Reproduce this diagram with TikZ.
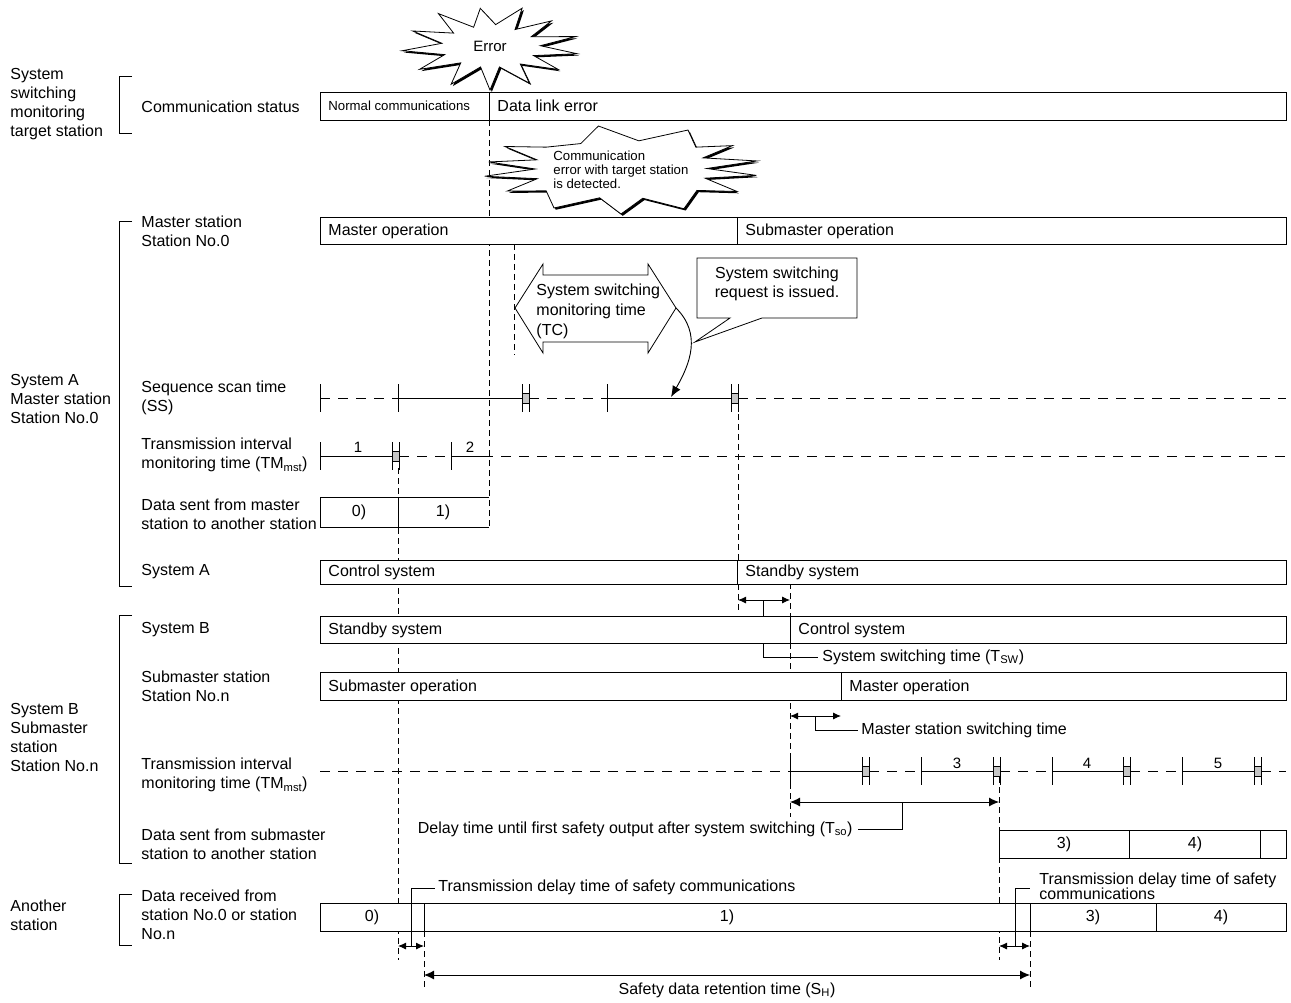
\documentclass[tikz,border=0pt]{standalone}
\usepackage{fontspec}
\setmainfont{Liberation Sans}
\usetikzlibrary{arrows.meta}
\newcommand\tk[2]{\draw (#1,#2-14) -- (#1,#2+14);}
\newcommand\mkr[2]{\filldraw[fill=gray!45,line width=0.7pt] (#1,#2-5) rectangle ({#1+7},#2+5);
  \draw (#1,#2-14) -- (#1,#2+14) ({#1+7},#2-14) -- ({#1+7},#2+14);}
\begin{document}
\begin{tikzpicture}[x=1pt,y=-1pt,line width=0.9pt,
  lbl/.style={font=\fontsize{16}{19}\selectfont,inner sep=0pt,anchor=west,align=left},
  lblc/.style={font=\fontsize{16}{19}\selectfont,inner sep=0pt,anchor=center,align=center},
  sml/.style={font=\fontsize{13.2}{14}\selectfont,inner sep=0pt,anchor=west,align=left},
  num/.style={font=\fontsize{15}{16}\selectfont,inner sep=0pt,anchor=center},
  hd/.style={dash pattern=on 10pt off 8pt},
  vd/.style={dash pattern=on 6pt off 4pt,line width=0.8pt},
  bx/.style={draw,fill=white},
  dbl/.style={{Latex[length=8pt,width=7pt]}-{Latex[length=8pt,width=7pt]}},
  dblbig/.style={{Latex[length=10pt,width=9pt]}-{Latex[length=10pt,width=9pt]}}]
\useasboundingbox[fill=white] (0,0) rectangle (1291,1003);

% ---------- left group labels and brackets ----------
\node[lbl] (g1) at (10,104) {System\\switching\\monitoring\\target station};
\node[lbl] (g2) at (10,399) {System A\\Master station\\Station No.0};
\node[lbl] (g3) at (10,737) {System B\\Submaster\\station\\Station No.n};
\node[lbl] (g4) at (10,915) {Another\\station};
\draw (132,76) -- (119,76) -- (119,133) -- (132,133);
\draw (132,221) -- (119,221) -- (119,586) -- (132,586);
\draw (132,615) -- (119,615) -- (119,863) -- (132,863);
\draw (132,894) -- (119,894) -- (119,945) -- (132,945);

% ---------- row labels ----------
\node[lbl] (r1) at (141,107) {Communication status};
\node[lbl] (r2) at (141,231) {Master station\\Station No.0};
\node[lbl] (r3) at (141,398) {Sequence scan time\\(SS)};
\node[lbl] (r4) at (141,455) {Transmission interval\\monitoring time (TM\textsubscript{mst})};
\node[lbl] (r5) at (141,514) {Data sent from master\\station to another station};
\node[lbl] (r6) at (141,572) {System A};
\node[lbl] (r7) at (141,630) {System B};
\node[lbl] (r8) at (141,686) {Submaster station\\Station No.n};
\node[lbl] (r9) at (141,775) {Transmission interval\\monitoring time (TM\textsubscript{mst})};
\node[lbl] (r10) at (141,844) {Data sent from submaster\\station to another station};
\node[lbl] (r11) at (141,915) {Data received from\\station No.0 or station\\No.n};

% ---------- dashed vertical guides (drawn under boxes) ----------
\draw[vd] (489,120) -- (489,527);
\draw[vd] (514,244) -- (514,355);
\draw[vd] (398,468) -- (398,960);
\draw[vd] (738,404) -- (738,612);
\draw[vd] (790,583) -- (790,817);
\draw[vd] (999,777) -- (999,960);
\draw[vd] (1030,931) -- (1030,990);
\draw[vd] (424,931) -- (424,990);

% ---------- error burst ----------
\begin{scope}[shift={(490,47)},x=84pt,y=41pt]
\def\burstA{(270:1.05) -- (283:0.5) -- (298:1.0) -- (311:0.55) -- (326:0.98) -- (338:0.56) -- (351:1.05) -- (3:0.6) -- (14:1.05) -- (27:0.55) -- (41:0.97) -- (55:0.52) -- (68:1.02) -- (83:0.55) -- (97:0.95) -- (112:0.52) -- (127:1.02) -- (142:0.55) -- (157:1.0) -- (171:0.58) -- (185:1.05) -- (199:0.57) -- (213:1.0) -- (228:0.52) -- (243:1.02) -- (257:0.5) -- cycle}
\fill[black,shift={(1.8pt,-1.8pt)}] \burstA;
\filldraw[fill=white,line width=0.8pt] \burstA;
\end{scope}
\node[lblc,font=\fontsize{15}{17}\selectfont] (err) at (490,46) {Error};

% ---------- communication status ----------
\draw[bx] (320,92) rectangle (1286,120);
\draw (489,92) -- (489,120);
\node[sml] (nc) at (328,106) {Normal communications};
\node[lbl] (dle) at (497,106) {Data link error};

% ---------- detection burst ----------
\begin{scope}[shift={(621,169)},x=134pt,y=45pt]
\def\burstB{(270:1.0) -- (284:0.67) -- (298:1.0) -- (320:0.74) -- (330:1.0) -- (342:0.66) -- (352:1.02) -- (1:0.64) -- (10:1.03) -- (22:0.66) -- (32:0.98) -- (41:0.74) -- (60:1.0) -- (78:0.64) -- (100:0.97) -- (118:0.64) -- (139:0.74) -- (150:1.0) -- (162:0.66) -- (171:1.0) -- (180:0.64) -- (189:1.03) -- (199:0.66) -- (210:0.98) -- (221:0.74) -- (240:1.0) -- (256:0.66) -- cycle}
\fill[black,shift={(1.8pt,-1.8pt)}] \burstB;
\filldraw[fill=white,line width=0.8pt] \burstB;
\end{scope}
\node[sml] (det) at (553,170) {Communication\\error with target station\\is detected.};

% ---------- master station row ----------
\draw[bx] (320,217) rectangle (1286,244);
\draw (737,217) -- (737,244);
\node[lbl] (mo) at (328,231) {Master operation};
\node[lbl] (so) at (745,231) {Submaster operation};

% ---------- TC block arrow ----------
\filldraw[fill=white,line width=0.8pt] (515,308) -- (543,264) -- (543,275) -- (648,275) -- (648,264) -- (676,308)
  -- (648,353) -- (648,342) -- (543,342) -- (543,353) -- cycle;
\node[lbl,font=\fontsize{16}{20}\selectfont] (tc) at (536,311) {System switching\\monitoring time\\(TC)};
\coordinate (tcR) at (676,308);
\coordinate (ssHit) at (671,397);
\draw[-{Latex[length=11pt,width=9pt]}] (tcR) .. controls (702,334) and (690,364) .. (ssHit);

% ---------- callout ----------
\filldraw[fill=white,line width=0.8pt] (697,258) -- (857,258) -- (857,318) -- (762,318) -- (695,342) -- (730,318) -- (697,318) -- cycle;
\node[lblc,font=\fontsize{16}{18.5}\selectfont] (req) at (777,284) {System switching\\request is issued.};

% ---------- sequence scan time row ----------
\draw[hd] (320,398) -- (398,398);
\draw (398,398) -- (522,398);
\draw[hd] (529,398) -- (607,398);
\draw (607,398) -- (731,398);
\draw[hd] (738,398) -- (1286,398);
\tk{320}{398} \tk{398}{398} \tk{607}{398}
\mkr{522}{398} \mkr{731}{398}

% ---------- TM row A ----------
\draw (320,456) -- (392,456);
\draw[hd] (399,456) -- (451,456);
\draw (451,456) -- (483,456);
\draw[hd] (483,456) -- (1286,456);
\tk{320}{456} \tk{451}{456}
\mkr{392}{456}
\node[num] (n1) at (358,447) {1};
\node[num] (n2) at (470,447) {2};

% ---------- data sent from master ----------
\fill[white] (320,497) rectangle (488.4,527);
\draw (489,497) -- (320,497) -- (320,527) -- (489,527);
\draw (398,497) -- (398,527);
\node[lblc] (d0) at (359,512) {0)};
\node[lblc] (d1) at (443,512) {1)};

% ---------- system A ----------
\draw[bx] (320,560) rectangle (1286,584);
\draw (737,560) -- (737,584);
\node[lbl] (csA) at (328,572) {Control system};
\node[lbl] (ssA) at (745,572) {Standby system};

% ---------- system switching time ----------
\coordinate (tswL) at (738,600);
\coordinate (tswR) at (790,600);
\draw[dbl] (tswL) -- (tswR);
\draw (763,600) -- (763,657) -- (818,657);
\node[lbl] (tsw) at (822,657) {System switching time (T\textsubscript{SW})};

% ---------- system B ----------
\draw[bx] (320,616) rectangle (1286,643);
\draw (790,616) -- (790,643);
\node[lbl] (ssB) at (328,630) {Standby system};
\node[lbl] (csB) at (798,630) {Control system};

% ---------- submaster station ----------
\draw[bx] (320,672) rectangle (1286,700);
\draw (841,672) -- (841,700);
\node[lbl] (smo) at (328,687) {Submaster operation};
\node[lbl] (mo2) at (849,687) {Master operation};

% ---------- master station switching time ----------
\draw[dbl] (790,716) -- (841,716);
\draw (815,716) -- (815,730) -- (858,730);
\node[lbl] (mss) at (861,730) {Master station switching time};

% ---------- TM row B ----------
\draw[hd] (320,771) -- (790,771);
\draw (790,771) -- (862,771);
\draw[hd] (869,771) -- (921,771);
\draw (921,771) -- (993,771);
\draw[hd] (1000,771) -- (1052,771);
\draw (1052,771) -- (1123,771);
\draw[hd] (1130,771) -- (1182,771);
\draw (1182,771) -- (1254,771);
\draw[hd] (1261,771) -- (1286,771);
\tk{790}{771} \tk{921}{771} \tk{1052}{771} \tk{1182}{771}
\mkr{862}{771} \mkr{993}{771} \mkr{1123}{771} \mkr{1254}{771}
\node[num] (n3) at (957,763) {3};
\node[num] (n4) at (1087,763) {4};
\node[num] (n5) at (1218,763) {5};

% ---------- Tso ----------
\draw[dblbig] (790,802) -- (999,802);
\draw (902,802) -- (902,829) -- (858,829);
\node[lbl,anchor=east] (tso) at (853,829) {Delay time until first safety output after system switching (T\textsubscript{so})};

% ---------- data sent from submaster ----------
\draw[bx] (999,830) rectangle (1286,858);
\draw (1129,830) -- (1129,858) (1260,830) -- (1260,858);
\node[lblc] (d3) at (1064,844) {3)};
\node[lblc] (d4) at (1195,844) {4)};

% ---------- another station ----------
\draw[bx] (320,903) rectangle (1286,931);
\draw (424,903) -- (424,931) (1030,903) -- (1030,931) (1156,903) -- (1156,931);
\node[lblc] (a0) at (372,917) {0)};
\node[lblc] (a1) at (727,917) {1)};
\node[lblc] (a3) at (1093,917) {3)};
\node[lblc] (a4) at (1221,917) {4)};

% ---------- transmission delays ----------
\draw[dbl] (398,946) -- (424,946);
\draw (411,946) -- (411,888) -- (435,888);
\node[lbl] (td1) at (438,887) {Transmission delay time of safety communications};
\draw[dbl] (999,946) -- (1030,946);
\draw (1015,946) -- (1015,888) -- (1030,888);
\node[lbl,font=\fontsize{16}{15}\selectfont] (td2) at (1039,886) {Transmission delay time of safety\\communications};

% ---------- safety data retention ----------
\draw[dblbig] (424,975) -- (1030,975);
\node[lblc] (sh) at (727,990) {Safety data retention time (S\textsubscript{H})};
\end{tikzpicture}
\end{document}
